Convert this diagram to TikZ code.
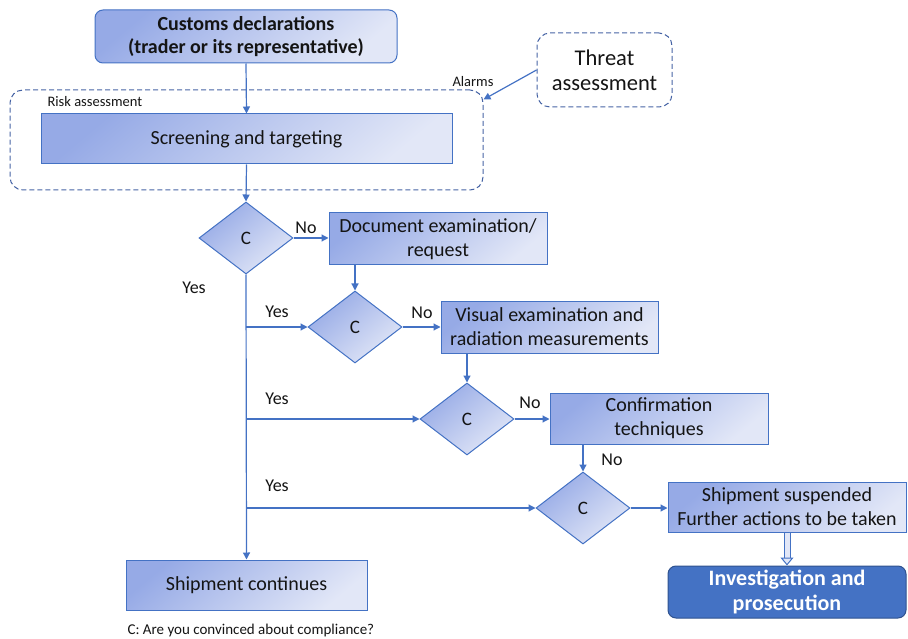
\documentclass[tikz,border=0pt]{standalone}
\usepackage{fontspec}
\setmainfont{Carlito}
\usepackage{tikz}
\usetikzlibrary{shapes.geometric,arrows.meta,positioning}
\definecolor{edgeblue}{RGB}{68,114,196}
\definecolor{framegray}{RGB}{70,100,165}
\definecolor{boxdark}{RGB}{150,170,230}
\definecolor{boxlight}{RGB}{226,231,247}
\definecolor{invblue}{RGB}{68,114,196}
\definecolor{invedge}{RGB}{47,82,143}
\definecolor{txt}{RGB}{20,20,20}

\begin{document}
\begin{tikzpicture}[x=1pt,y=-1pt,
          proc/.style={draw=edgeblue,line width=1pt,top color=boxdark,
                       bottom color=boxlight,shading angle=40,
                       minimum height=51pt,align=center,text=txt,inner sep=2pt,
                       font=\fontsize{20}{24}\selectfont},
          decide/.style={diamond,draw=edgeblue,line width=1pt,top color=boxdark,
                         bottom color=boxlight,shading angle=40,
                         minimum width=94pt,minimum height=72pt,inner sep=0pt,
                         text=txt,font=\fontsize{19}{21}\selectfont},
          dashbox/.style={draw=framegray,line width=1pt,dash pattern=on 5pt off 3pt,
                          rounded corners=13pt},
          flow/.style={draw=edgeblue,line width=1.2pt,
                       -{Triangle[length=7pt,width=7pt]}},
          lbl/.style={text=txt,font=\fontsize{18}{20}\selectfont},
          small/.style={text=txt,font=\fontsize{14.5}{16}\selectfont}]
        \useasboundingbox (0,0) rectangle (908,639);
        % risk assessment frame
        \node[dashbox,minimum width=473pt,minimum height=100pt] (risk) at (246.5,140) {};
        \node[small,anchor=west] (risklbl) at (44,102) {Risk assessment};
        % boxes
        \node[proc,rounded corners=8pt,minimum width=302pt,minimum height=53pt,
              font=\bfseries\fontsize{20}{22.5}\selectfont] (cust) at (246,36.5)
          {Customs declarations\\(trader or its representative)};
        \node[proc,minimum width=411pt,minimum height=50pt] (screen) at (246.5,139)
          {Screening and targeting};
        \node[dashbox,draw=framegray,minimum width=135pt,minimum height=74pt,
              align=center,text=txt,font=\fontsize{22.5}{25}\selectfont] (threat) at (604.5,70)
          {Threat\\assessment};
        \node[small] (alarms) at (473,82) {Alarms};
        % decisions
        \node[decide] (c1) at (246,238) {C};
        \node[decide] (c2) at (355,327) {C};
        \node[decide] (c3) at (467,419) {C};
        \node[decide] (c4) at (583,508) {C};
        \node[proc,minimum width=218pt,minimum height=52pt] (doc) at (438,239)
          {Document examination/\\request};
        \node[proc,minimum width=217pt,minimum height=52pt] (vis) at (549.5,327)
          {Visual examination and\\radiation measurements};
        \node[proc,minimum width=218pt,minimum height=51pt] (conf) at (659,418.5)
          {Confirmation\\techniques};
        \node[proc,minimum width=238pt,minimum height=50pt] (susp) at (787,507)
          {Shipment suspended\\Further actions to be taken};
        \node[draw=invedge,fill=invblue,line width=1pt,rounded corners=8pt,
              minimum width=238pt,minimum height=52pt,align=center,text=white,
              font=\bfseries\fontsize{22}{25}\selectfont] (inv) at (787,592)
          {Investigation and\\prosecution};
        \node[proc,minimum width=241pt,minimum height=50pt] (cont) at (246.5,585)
          {Shipment continues};
        \node[small,anchor=west,font=\fontsize{15}{17}\selectfont] (note) at (124,630)
          {C: Are you convinced about compliance?};
        % connectors
        \draw[flow] (cust.south) -- (screen.north);
        \draw[flow] (screen.south) -- (c1.north);
        \draw[flow] (threat.west) -- ([yshift=-10pt]risk.north east);
        \draw[flow] (c1.east) -- (c1.east -| doc.west);
        \draw[flow] (doc.south -| c2.north) -- (c2.north);
        \draw[flow] (c2.east) -- (c2.east -| vis.west);
        \draw[flow] (vis.south -| c3.north) -- (c3.north);
        \draw[flow] (c3.east) -- (c3.east -| conf.west);
        \draw[flow] (conf.south -| c4.north) -- (c4.north);
        \draw[flow] (c4.east) -- (c4.east -| susp.west);
        \draw[flow] (c1.south) -- (cont.north);
        \draw[flow] (c1.south |- c2.west) -- (c2.west);
        \draw[flow] (c1.south |- c3.west) -- (c3.west);
        \draw[flow] (c1.south |- c4.west) -- (c4.west);
        \draw[draw=edgeblue,line width=1pt,double=boxlight,double distance=5pt,
              -{Triangle[open,length=8pt,width=13pt,fill=boxlight]}] (susp.south) -- (inv.north);
        % labels
        \node[lbl] (no1) at (306,228) {No};
        \node[lbl] (no2) at (422,313) {No};
        \node[lbl] (no3) at (530,403) {No};
        \node[lbl] (no4) at (612,460) {No};
        \node[lbl] (yes1) at (194,288) {Yes};
        \node[lbl] (yes2) at (277,312) {Yes};
        \node[lbl] (yes3) at (277,399) {Yes};
        \node[lbl] (yes4) at (277,486) {Yes};
      \end{tikzpicture}
\end{document}
